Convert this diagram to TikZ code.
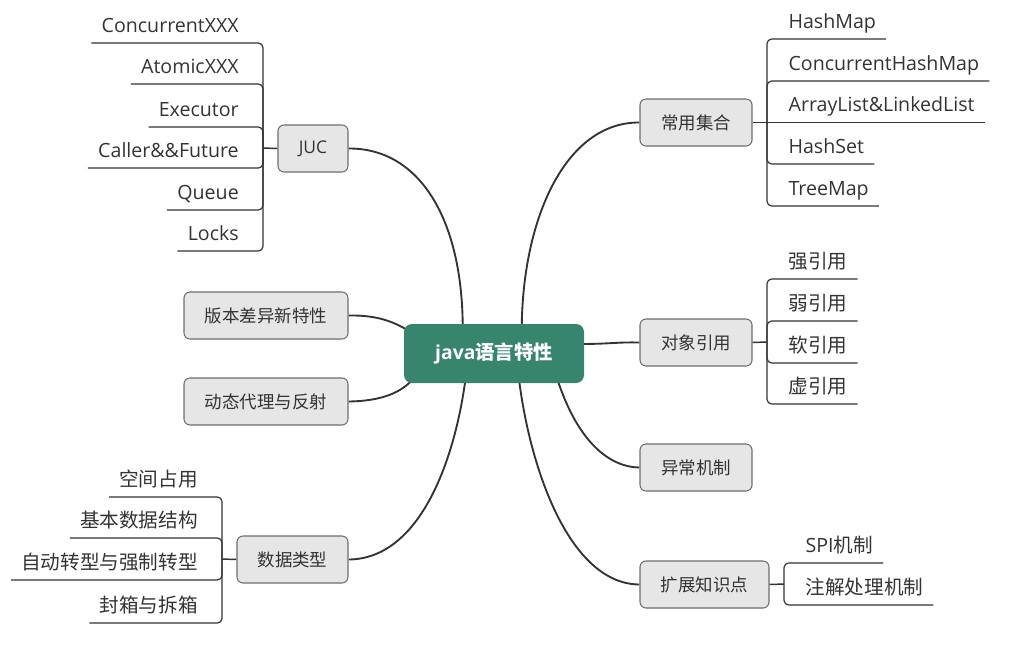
\documentclass[tikz,border=0pt]{standalone}
\usepackage{fontspec}
\setmainfont{Open Sans}
\newfontfamily\cjk{Noto Sans CJK SC}
\usetikzlibrary{calc}
\pgfdeclarelayer{bg}
\pgfsetlayers{bg,main}
\definecolor{ctrfill}{HTML}{37846F}
\definecolor{boxfill}{HTML}{E6E6E6}
\definecolor{boxdraw}{HTML}{6E6E6E}
\definecolor{txt}{HTML}{333333}
\definecolor{lnc}{HTML}{333333}
\begin{document}
\begin{tikzpicture}[x=0.75pt,y=-0.75pt,
  ctr/.style={fill=ctrfill, rounded corners=6pt, minimum width=135pt, minimum height=44.25pt,
    inner sep=0pt, text=white, font=\bfseries\fontsize{14.5}{17}\selectfont},
  topic/.style={draw=boxdraw, fill=boxfill, line width=0.8pt, rounded corners=4.5pt,
    minimum height=35.25pt, inner sep=0pt, text=txt, font=\fontsize{13.1}{16}\selectfont},
  lchild/.style={anchor=south east, inner sep=0pt, inner ysep=7.8pt, text depth=0pt, text=txt,
    font=\fontsize{14.7}{17}\selectfont,
    execute at begin node={\hspace*{7.5pt}}, execute at end node={\hspace*{18pt}}},
  rchild/.style={anchor=south west, inner sep=0pt, inner ysep=7.8pt, text depth=0pt, text=txt,
    font=\fontsize{14.7}{17}\selectfont,
    execute at begin node={\hspace*{16pt}}, execute at end node={\hspace*{7.5pt}}},
  curve/.style={draw=lnc, line width=1.4pt},
  stub/.style={draw=lnc, line width=1.1pt},
  uline/.style={draw=lnc, line width=0.9pt, rounded corners=3.5pt}]
\useasboundingbox (0,0) rectangle (1017,646);

% central node
\node[ctr] (c) at (494,353.5) {java{\cjk 语言特性}};

% main topics
\node[topic, minimum width=52.5pt] (juc) at (313,148.5) {JUC};
\node[topic, minimum width=123pt] (bb) at (266,315.5) {\cjk 版本差异新特性};
\node[topic, minimum width=123pt] (dt) at (266,401.5) {\cjk 动态代理与反射};
\node[topic, minimum width=83.25pt] (sj) at (292.5,559.5) {\cjk 数据类型};
\node[topic, minimum width=84pt] (cy) at (696,122.5) {\cjk 常用集合};
\node[topic, minimum width=84pt] (dx) at (696,342.5) {\cjk 对象引用};
\node[topic, minimum width=84pt] (yc) at (696,467.5) {\cjk 异常机制};
\node[topic, minimum width=96.75pt] (kz) at (704.5,584.5) {\cjk 扩展知识点};

% curves from centre
\begin{pgfonlayer}{bg}
\draw[curve] ($(c.north west)+(59,6)$) .. controls (463,220) and (420,148) .. (juc.east);
\draw[curve] ($(c.north west)+(118,6)$) .. controls (522,220) and (565,122) .. (cy.west);
\draw[curve] (bb.east) .. controls (378,315) and (395,322) .. ($(c.north west)+(8,9)$);
\draw[curve] (dt.east) .. controls (383,401) and (402,392) .. ($(c.south west)+(10,-5)$);
\draw[curve] (sj.east) .. controls (420,559) and (455,460) .. ($(c.south west)+(62,-6)$);
\draw[curve] ($(c.south west)+(115,-6)$) .. controls (530,470) and (570,584) .. (kz.west);
\draw[curve] ($(c.south west)+(153,-6)$) .. controls (575,435) and (605,467) .. (yc.west);
\draw[curve] ($(c.east)+(-6,-9.5)$) .. controls (612,344) and (615,342) .. (dx.west);
\end{pgfonlayer}

% JUC children
\coordinate (jJ) at (263,148);
\draw[stub] (juc.west) -- (jJ);
\node[lchild] (j1) at (263,43) {ConcurrentXXX};
\node[lchild] (j2) at (263,84) {AtomicXXX};
\node[lchild] (j3) at (263,127) {Executor};
\node[lchild] (j4) at (263,168) {Caller\&\&Future};
\node[lchild] (j5) at (263,210) {Queue};
\node[lchild] (j6) at (263,251) {Locks};
\foreach \n in {j1,j2,j3,j4,j5,j6}
  \draw[uline] (jJ) -- (\n.south east) -- (\n.south west);

% 数据类型 children
\coordinate (sJ) at (222,559);
\draw[stub] (sj.west) -- (sJ);
\node[lchild] (s1) at (222,497) {\cjk 空间占用};
\node[lchild] (s2) at (222,538) {\cjk 基本数据结构};
\node[lchild] (s3) at (222,580) {\cjk 自动转型与强制转型};
\node[lchild] (s4) at (222,623) {\cjk 封箱与拆箱};
\foreach \n in {s1,s2,s3,s4}
  \draw[uline] (sJ) -- (\n.south east) -- (\n.south west);

% 常用集合 children
\coordinate (cJ) at (767,122.5);
\draw[stub] (cy.east) -- (cJ);
\node[rchild] (c1) at (767,39) {HashMap};
\node[rchild] (c2) at (767,81) {ConcurrentHashMap};
\node[rchild] (c3) at (767,122.5) {ArrayList\&LinkedList};
\node[rchild] (c4) at (767,164) {HashSet};
\node[rchild] (c5) at (767,206) {TreeMap};
\foreach \n in {c1,c2,c4,c5}
  \draw[uline] (cJ) -- (\n.south west) -- (\n.south east);
\draw[uline] (c3.south west) -- (c3.south east);

% 对象引用 children
\coordinate (dJ) at (767,342);
\draw[stub] (dx.east) -- (dJ);
\node[rchild] (d1) at (767,279) {\cjk 强引用};
\node[rchild] (d2) at (767,321) {\cjk 弱引用};
\node[rchild] (d3) at (767,363) {\cjk 软引用};
\node[rchild] (d4) at (767,404) {\cjk 虚引用};
\foreach \n in {d1,d2,d3,d4}
  \draw[uline] (dJ) -- (\n.south west) -- (\n.south east);

% 扩展知识点 children
\coordinate (kJ) at (784,584);
\draw[stub] (kz.east) -- (kJ);
\node[rchild] (k1) at (784,563) {SPI{\cjk 机制}};
\node[rchild] (k2) at (784,605) {\cjk 注解处理机制};
\foreach \n in {k1,k2}
  \draw[uline] (kJ) -- (\n.south west) -- (\n.south east);
\end{tikzpicture}
\end{document}
